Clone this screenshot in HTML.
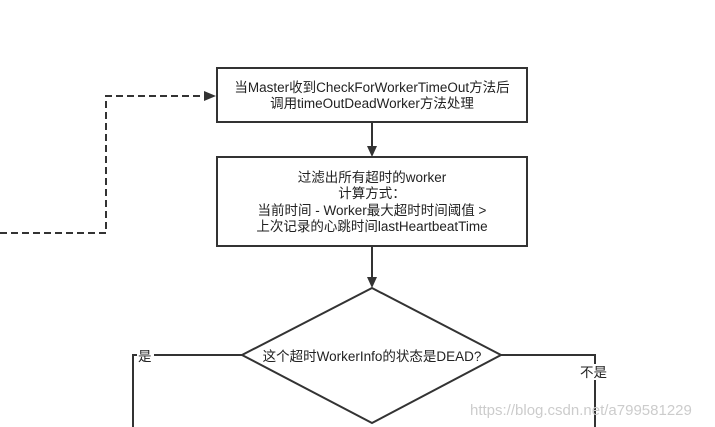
<!DOCTYPE html>
<html><head><meta charset="utf-8"><style>
html,body{margin:0;padding:0;background:#fff;width:715px;height:427px;overflow:hidden}
svg{display:block}
text{font-family:"Liberation Sans","Noto Sans CJK SC",sans-serif;font-size:13.5px;fill:#222}
</style></head><body>
<svg width="715" height="427" viewBox="0 0 715 427">
<g fill="none" stroke="#333" stroke-width="2">
<polyline points="0,233 106,233 106,96 205,96" stroke-dasharray="7,4"/>
<rect x="217" y="68" width="310" height="54" fill="#fff"/>
<rect x="217" y="157" width="310" height="89" fill="#fff"/>
<line x1="372" y1="122" x2="372" y2="147"/>
<line x1="372" y1="246" x2="372" y2="279"/>
<polygon points="372,288 501,355 372,423 242,355" fill="#fff"/>
<polyline points="242,355 133,355 133,427"/>
<polyline points="501,355 595,355 595,427"/>
</g>
<polygon points="216,96 204,91 204,101" fill="#333"/>
<polygon points="372,157 367,146 377,146" fill="#333"/>
<polygon points="372,288 367,277 377,277" fill="#333"/>
<text x="372" y="92" text-anchor="middle">当Master收到CheckForWorkerTimeOut方法后</text>
<text x="372" y="108" text-anchor="middle">调用timeOutDeadWorker方法处理</text>
<text x="372" y="182" text-anchor="middle">过滤出所有超时的worker</text>
<text x="372" y="198" text-anchor="middle">计算方式：</text>
<text x="372" y="215" text-anchor="middle">当前时间 - Worker最大超时时间阈值 &gt;</text>
<text x="372" y="231" text-anchor="middle">上次记录的心跳时间lastHeartbeatTime</text>
<text x="372" y="361" text-anchor="middle">这个超时WorkerInfo的状态是DEAD?</text>
<rect x="137" y="348" width="17" height="16" fill="#fff"/>
<text x="138" y="361">是</text>
<rect x="580" y="364" width="29" height="16" fill="#fff"/>
<text x="580" y="377">不是</text>
<text x="470" y="415" style="font-size:15px;fill:#ccc">https://blog.csdn.net/a799581229</text>
</svg>
</body></html>
